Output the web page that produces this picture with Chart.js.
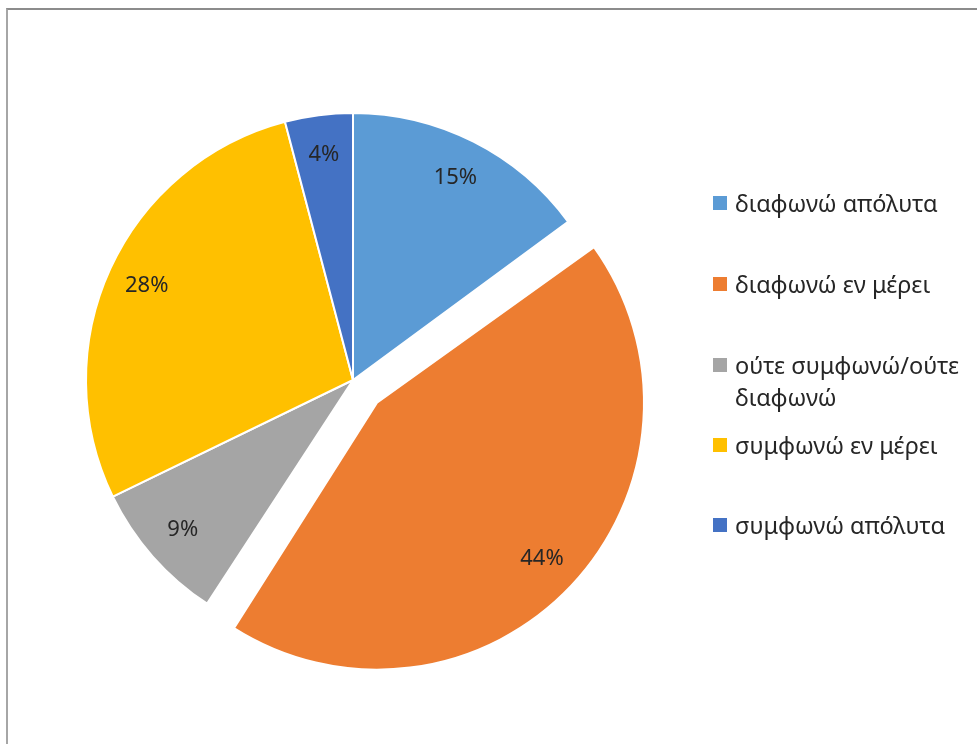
<!DOCTYPE html>
<html>
<head>
<meta charset="utf-8">
<script src="https://cdn.jsdelivr.net/npm/chart.js@4/dist/chart.umd.min.js"></script>
<style>
    body { margin: 0; background: #fff; }
    #wrap { position: relative; width: 977px; height: 744px; overflow: hidden; }
    #frame { position: absolute; left: 6px; top: 8px; width: 990px; height: 760px; border-top: 2px solid #8c8c8c; border-left: 2px solid #a6a6a6; }
    #pieChart { position: absolute; left: 0; top: 0; }
    #legend { position: absolute; left: 713px; top: 0; font-family: "Noto Sans", sans-serif; font-size: 23.5px; color: #262626; }
    .item { position: absolute; left: 0; width: 264px; display: flex; align-items: flex-start; line-height: 32px; white-space: nowrap; }
    .box { width: 14px; height: 14px; margin-top: 9px; margin-right: 8px; flex: none; }
</style>
</head>
<body>
<div id="wrap">
    <div id="frame"></div>
    <canvas id="pieChart" width="977" height="744"></canvas>
    <div id="legend"></div>
</div>
<script>
// DATA
const categories = ['διαφωνώ απόλυτα', 'διαφωνώ εν μέρει', 'ούτε συμφωνώ/ούτε διαφωνώ', 'συμφωνώ εν μέρει', 'συμφωνώ απόλυτα'];
const legendLines = [['διαφωνώ απόλυτα'], ['διαφωνώ εν μέρει'], ['ούτε συμφωνώ/ούτε', 'διαφωνώ'], ['συμφωνώ εν μέρει'], ['συμφωνώ απόλυτα']];
const percentages = [14.9, 44.3, 8.6, 28.1, 4.1];
const colors = ['#5B9BD5', '#ED7D31', '#A5A5A5', '#FFC000', '#4472C4'];
const explode = [0, 33, 0, 0, 0]; // px the slice is pulled out

const RADIUS = 267;

// chart.js v4 moves a slice by offset / 4 and also grows it by
// offset / 4 * (1 - sin(circumference)), so undo the growth
const explodeSlices = {
    id: 'explodeSlices',
    beforeDatasetsDraw(chart) {
        chart.getDatasetMeta(0).data.forEach((arc, i) => {
            if (!explode[i]) return;
            const fix = 1 - Math.sin(Math.min(Math.PI, arc.circumference));
            arc.options.offset = explode[i] * 4;
            arc.outerRadius = RADIUS - explode[i] * fix;
        });
    }
};

// percentage labels inside the slices
const sliceLabels = {
    id: 'sliceLabels',
    afterDatasetsDraw(chart) {
        const ctx = chart.ctx;
        const meta = chart.getDatasetMeta(0);
        const total = percentages.reduce((a, b) => a + b, 0);
        ctx.save();
        ctx.font = '22px "Noto Sans", sans-serif';
        ctx.fillStyle = '#262626';
        ctx.textAlign = 'center';
        ctx.textBaseline = 'middle';
        meta.data.forEach((arc, i) => {
            const p = arc.getProps(['x', 'y', 'startAngle', 'endAngle'], true);
            const mid = (p.startAngle + p.endAngle) / 2;
            const d = RADIUS * 0.85 + explode[i];
            const x = p.x + Math.cos(mid) * d;
            const y = p.y + Math.sin(mid) * d;
            ctx.fillText(Math.round(percentages[i] / total * 100) + '%', x, y);
        });
        ctx.restore();
    }
};

const ctx1 = document.getElementById('pieChart').getContext('2d');
new Chart(ctx1, {
    type: 'pie',
    data: {
        labels: categories,
        datasets: [{
            data: percentages,
            backgroundColor: colors,
            borderColor: '#ffffff',
            borderWidth: 2
        }]
    },
    options: {
        responsive: false,
        animation: false,
        radius: RADIUS,
        layout: { padding: { left: 0, right: 271, top: 16, bottom: 0 } },
        plugins: {
            legend: { display: false },
            tooltip: { enabled: false }
        }
    },
    plugins: [explodeSlices, sliceLabels]
});

// LEGEND
const legendTops = [187, 268, 349, 429, 509];
const legendEl = document.getElementById('legend');
legendLines.forEach((lines, i) => {
    const item = document.createElement('div');
    item.className = 'item';
    item.style.top = legendTops[i] + 'px';
    item.innerHTML = '<span class="box" style="background:' + colors[i] + '"></span><span>' + lines.join('<br>') + '</span>';
    legendEl.appendChild(item);
});
</script>
</body>
</html>
